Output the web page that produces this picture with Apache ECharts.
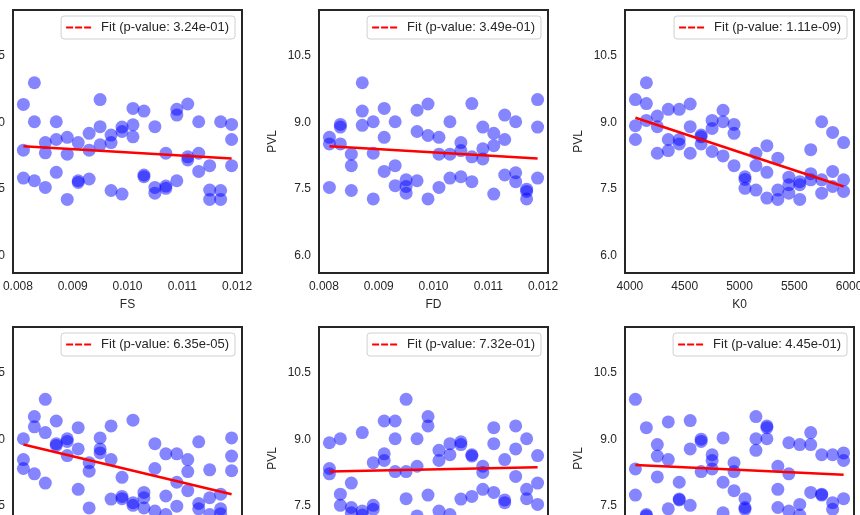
<!DOCTYPE html>
<html>
<head>
<meta charset="utf-8">
<script src="https://cdn.jsdelivr.net/npm/echarts@6/dist/echarts.min.js"></script>
<style>
  html, body { margin: 0; padding: 0; background: #fff; }
  #chart { width: 860px; height: 515px; }
</style>
</head>
<body>
<div id="chart"></div>
<script>
// parameter grids (x positions of the point columns)
const fsGrid = [0.0081, 0.0083, 0.0085, 0.0087, 0.0089, 0.0091, 0.0093, 0.0095, 0.0097, 0.0099,
  0.0101, 0.0103, 0.0105, 0.0107, 0.0109, 0.0111, 0.0113, 0.0115, 0.0117, 0.0119]
const fdGrid = [0.0081, 0.0083, 0.0085, 0.0087, 0.0089, 0.0091, 0.0093, 0.0095, 0.0097, 0.0099,
  0.0101, 0.0103, 0.0105, 0.0107, 0.0109, 0.0111, 0.0113, 0.0115, 0.0117, 0.0119]
const k0Grid = [4050, 4150, 4250, 4350, 4450, 4550, 4650, 4750, 4850, 4950,
  5050, 5150, 5250, 5350, 5450, 5550, 5650, 5750, 5850, 5950]
// bottom row parameters are cropped out of the picture, keep their columns by index
const colGrid = [1, 2, 3, 4, 5, 6, 7, 8, 9, 10, 11, 12, 13, 14, 15, 16, 17, 18, 19, 20]

// PVL values, three per column
const pvlFS = [
  [9.41, 8.38, 7.75], [9.90, 9.02, 7.69], [8.55, 8.32, 7.54], [9.02, 8.62, 7.88], [8.67, 8.29, 7.27],
  [8.55, 7.69, 7.65], [8.76, 8.38, 7.73], [9.52, 8.91, 8.50], [8.72, 8.55, 7.47], [8.90, 8.80, 7.39],
  [9.32, 8.95, 8.68], [9.26, 7.82, 7.78], [8.91, 7.54, 7.41], [8.31, 7.57, 7.52], [9.30, 9.17, 7.69],
  [9.42, 8.23, 8.16], [9.02, 8.31, 7.90], [8.03, 7.48, 7.27], [9.02, 7.47, 7.27], [8.96, 8.62, 8.03]
]
const pvlFD = [
  [8.67, 8.52, 7.54], [8.96, 8.90, 8.52], [8.29, 8.03, 7.47], [9.90, 9.26, 8.94], [9.02, 8.31, 7.28],
  [9.32, 8.67, 7.90], [9.02, 8.03, 7.58], [7.71, 7.56, 7.41], [9.28, 8.80, 7.69], [9.42, 8.71, 7.28],
  [8.67, 8.29, 7.54], [9.02, 8.29, 7.75], [8.55, 8.37, 7.78], [9.43, 8.23, 7.67], [8.90, 8.41, 8.18],
  [8.76, 8.48, 7.39], [9.17, 8.62, 7.82], [9.02, 7.87, 7.67], [7.50, 7.45, 7.28], [9.52, 8.90, 7.75]
]
const pvlK0 = [
  [9.52, 8.93, 8.62], [9.90, 9.43, 9.05], [9.15, 8.91, 8.31], [9.30, 8.62, 8.37], [9.30, 8.62, 8.52],
  [9.42, 8.91, 8.31], [8.72, 8.68, 8.52], [9.05, 8.87, 8.35], [9.28, 9.02, 8.25], [8.96, 8.76, 8.03],
  [7.78, 7.72, 7.52], [8.31, 8.03, 7.48], [8.48, 7.88, 7.30], [8.20, 7.48, 7.27], [7.77, 7.60, 7.41],
  [7.67, 7.60, 7.27], [8.39, 7.85, 7.71], [9.02, 7.71, 7.41], [8.78, 7.90, 7.56], [8.55, 7.71, 7.45]
]
const pvlP4 = [
  [9.02, 8.55, 8.35], [9.52, 9.29, 8.23], [9.91, 9.16, 8.02], [9.42, 8.91, 8.87], [9.02, 8.96, 8.64],
  [9.27, 8.79, 7.88], [8.48, 8.29, 7.46], [9.04, 8.79, 8.70], [9.31, 8.55, 7.66], [8.15, 7.72, 7.67],
  [9.44, 7.58, 7.52], [7.81, 7.69, 7.46], [8.91, 8.35, 7.39], [8.68, 7.73, 7.31], [8.68, 8.04, 7.50],
  [8.55, 8.28, 7.85], [8.95, 7.56, 7.44], [8.32, 7.69, 7.31], [7.77, 7.44, 7.33], [9.04, 8.63, 8.30]
]
const pvlP5 = [
  [8.93, 8.35, 8.23], [9.02, 7.77, 7.52], [8.02, 7.47, 7.35], [9.16, 7.39, 7.30], [8.48, 7.52, 7.43],
  [9.42, 8.68, 8.53], [9.42, 9.02, 8.28], [9.91, 8.28, 7.67], [9.02, 8.40, 7.28], [9.52, 9.31, 7.75],
  [8.76, 8.53, 7.39], [8.91, 8.66, 7.31], [8.95, 8.89, 7.66], [8.66, 8.63, 7.72], [8.40, 8.26, 7.88],
  [9.27, 8.91, 7.81], [8.55, 7.64, 7.58], [9.31, 8.79, 8.17], [9.02, 7.88, 7.67], [8.64, 8.02, 7.54]
]
const pvlP6 = [
  [9.91, 8.34, 7.75], [9.27, 7.31, 7.28], [8.89, 8.63, 8.16], [9.40, 8.55, 7.44], [8.04, 7.66, 7.64],
  [9.43, 8.79, 7.52], [9.01, 8.96, 8.28], [8.66, 8.53, 8.34], [9.04, 8.04, 7.35], [8.48, 8.28, 7.85],
  [7.67, 7.47, 7.43], [9.52, 9.02, 8.76], [9.31, 9.27, 9.02], [8.40, 7.88, 7.47], [8.93, 8.23, 7.39],
  [8.89, 7.54, 7.30], [9.16, 8.89, 7.81], [8.66, 7.77, 7.75], [8.66, 7.58, 7.43], [8.70, 8.53, 7.67]
]

// fitted line, value at first and last column
const fitFS = [8.47, 8.19]
const fitFD = [8.47, 8.19]
const fitK0 = [9.11, 7.56]
const fitP4 = [8.89, 7.77]
const fitP5 = [8.28, 8.38]
const fitP6 = [8.43, 8.21]

const pValues = ['3.24e-01', '3.49e-01', '1.11e-09', '6.35e-05', '7.32e-01', '4.45e-01']
const xNames = ['FS', 'FD', 'K0', '', '', '']

const pvlTicks = [6.0, 7.5, 9.0, 10.5]
const fracTicks = [0.008, 0.009, 0.010, 0.011, 0.012]
const k0Ticks = [4000, 4500, 5000, 5500, 6000]
const colTicks = [5, 10, 15, 20]

const panels = [
  { xs: fsGrid, ys: pvlFS, fit: fitFS, ticks: fracTicks, digits: 3 },
  { xs: fdGrid, ys: pvlFD, fit: fitFD, ticks: fracTicks, digits: 3 },
  { xs: k0Grid, ys: pvlK0, fit: fitK0, ticks: k0Ticks, digits: 0 },
  { xs: colGrid, ys: pvlP4, fit: fitP4, ticks: colTicks, digits: 0 },
  { xs: colGrid, ys: pvlP5, fit: fitP5, ticks: colTicks, digits: 0 },
  { xs: colGrid, ys: pvlP6, fit: fitP6, ticks: colTicks, digits: 0 }
]

const lefts = [13, 319, 625]
const tops = [10, 327]
const W = 229, H = 263
const ink = '#262626'
const font = 'Liberation Sans, Arial, sans-serif'
const dashIcon = 'path://M0,0H7V2H0Z M9,0H16V2H9Z M18,0H25V2H18Z'

const grid = [], xAxis = [], yAxis = [], series = [], legend = []

panels.forEach((p, i) => {
  const col = i % 3
  const row = Math.floor(i / 3)
  const first = p.xs[0]
  const last = p.xs[p.xs.length - 1]
  const pad = (last - first) * 0.05
  const fitName = 'Fit (p-value: ' + pValues[i] + ')'

  grid.push({
    left: lefts[col], top: tops[row], width: W, height: H,
    outerBoundsMode: 'none', containLabel: false,
    show: true, borderColor: ink, borderWidth: 2, backgroundColor: '#fff'
  })
  xAxis.push({
    type: 'value', gridIndex: i, min: first - pad, max: last + pad,
    name: xNames[i], nameLocation: 'middle', nameGap: 26,
    nameTextStyle: { fontSize: 12, color: ink, fontFamily: font },
    axisLine: { show: false }, axisTick: { show: false }, splitLine: { show: false },
    axisLabel: {
      customValues: p.ticks, margin: 8, fontSize: 12, color: ink, fontFamily: font,
      formatter: v => v.toFixed(p.digits)
    }
  })
  yAxis.push({
    type: 'value', gridIndex: i, min: 5.61, max: 11.54,
    name: 'PVL', nameLocation: 'middle', nameGap: 40,
    nameTextStyle: { fontSize: 12, color: ink, fontFamily: font },
    axisLine: { show: false }, axisTick: { show: false }, splitLine: { show: false },
    axisLabel: {
      customValues: pvlTicks, margin: 8, fontSize: 12, color: ink, fontFamily: font,
      formatter: v => v.toFixed(1)
    }
  })
  series.push({
    type: 'scatter', xAxisIndex: i, yAxisIndex: i, symbolSize: 13, z: 2,
    itemStyle: { color: 'rgba(0,0,255,0.6)' },
    data: p.xs.flatMap((x, j) => p.ys[j].map(y => [x, y]))
  })
  series.push({
    type: 'line', name: fitName, xAxisIndex: i, yAxisIndex: i, z: 3,
    symbol: 'none', color: '#ff0000',
    lineStyle: { color: '#ff0000', width: 2.5 },
    data: [[first, p.fit[0]], [last, p.fit[1]]]
  })
  legend.push({
    data: [{ name: fitName, icon: dashIcon }],
    right: 860 - (lefts[col] + W - 7), top: tops[row] + 6,
    itemWidth: 25, itemHeight: 2, selectedMode: false,
    padding: [5, 6, 5, 5], borderColor: '#d0d0d0', borderWidth: 1, borderRadius: 3,
    backgroundColor: 'rgba(255,255,255,0.8)',
    textStyle: { fontSize: 13, color: ink, fontFamily: font, padding: [0, 0, 0, 5] }
  })
})

const chart = echarts.init(document.getElementById('chart'))
chart.setOption({
  animation: false,
  backgroundColor: '#fff',
  grid, xAxis, yAxis, series, legend
})
</script>
</body>
</html>
